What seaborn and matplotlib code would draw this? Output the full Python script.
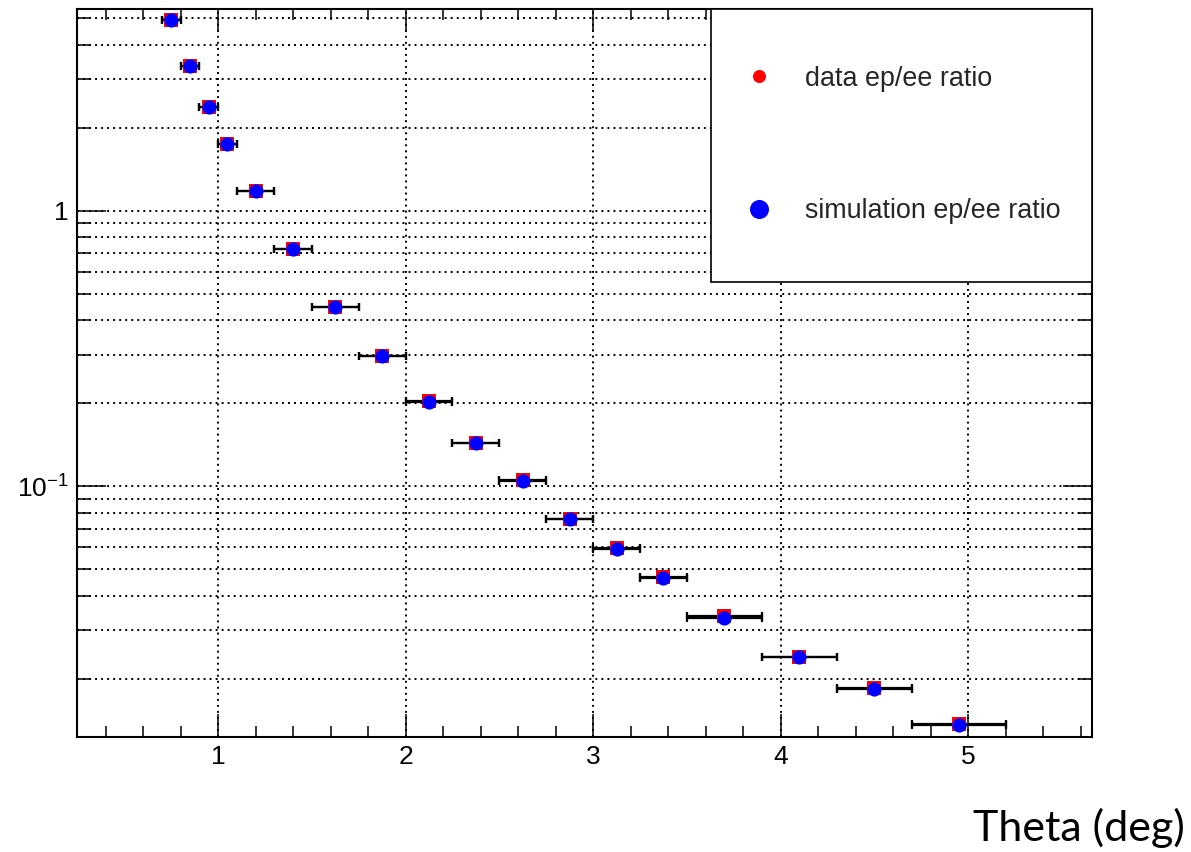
import numpy as np
import pandas as pd
import matplotlib
matplotlib.use("Agg")
import matplotlib.pyplot as plt
from matplotlib.ticker import MultipleLocator, LogLocator, NullFormatter, FuncFormatter
from matplotlib.lines import Line2D
from matplotlib.patches import Rectangle
import seaborn as sns

# ---- data ----
theta = [0.75, 0.85, 0.95, 1.05, 1.2, 1.4, 1.625, 1.875, 2.125, 2.375,
         2.625, 2.875, 3.125, 3.375, 3.7, 4.1, 4.5, 4.95]
theta_err = [0.05, 0.05, 0.05, 0.05, 0.1, 0.1, 0.125, 0.125, 0.125, 0.125,
             0.125, 0.125, 0.125, 0.125, 0.2, 0.2, 0.2, 0.25]
sim_ratio = [4.92, 3.35, 2.39, 1.75, 1.18, 0.726, 0.448, 0.297, 0.203, 0.1435,
             0.1047, 0.0760, 0.0592, 0.0463, 0.0333, 0.0240, 0.0184, 0.0136]
data_ratio = [4.93, 3.36, 2.39, 1.75, 1.18, 0.727, 0.449, 0.298, 0.204, 0.1440,
              0.1050, 0.0762, 0.0598, 0.0468, 0.0337, 0.0241, 0.0185, 0.0137]
labels = ["data ep/ee ratio", "simulation ep/ee ratio"]
x_label = "Theta (deg)"

sns.set_style("ticks")
plt.rcParams['font.family'] = ['Liberation Sans', 'DejaVu Sans']
plt.rcParams['mathtext.fontset'] = 'custom'
plt.rcParams['mathtext.rm'] = 'Liberation Sans'
plt.rcParams['mathtext.it'] = 'Liberation Sans'
plt.rcParams['axes.unicode_minus'] = True

fig = plt.figure(figsize=(11.91, 8.52), dpi=100)
ax = fig.add_axes([77/1191, 1-737/852, (1092-77)/1191, (737-9)/852])

df = pd.DataFrame({"theta": theta, "err": theta_err, "data": data_ratio, "sim": sim_ratio})

# error bars for both series
for col in ["data", "sim"]:
    ax.errorbar(df["theta"], df[col], xerr=df["err"], fmt='none', ecolor='black',
                elinewidth=1.6, capsize=3.2, capthick=1.6, zorder=3)

sns.scatterplot(data=df, x="theta", y="data", marker='s', color='red', s=92,
                linewidth=0, ax=ax, zorder=4)
sns.scatterplot(data=df, x="theta", y="sim", marker='o', color='blue', s=104,
                linewidth=0, ax=ax, zorder=5)

ax.set_yscale('log')
ax.set_xlim(0.248, 5.66)
ax.set_ylim(0.0123, 5.40)
ax.set_xlabel("")
ax.set_ylabel("")

ax.xaxis.set_major_locator(MultipleLocator(1))
ax.xaxis.set_minor_locator(MultipleLocator(0.2))
ax.yaxis.set_major_locator(LogLocator(base=10))
ax.yaxis.set_minor_locator(LogLocator(base=10, subs=np.arange(2, 10)))
ax.yaxis.set_minor_formatter(NullFormatter())

def yfmt(v, pos):
    if abs(v - 1) < 1e-9:
        return "1"
    e = int(round(np.log10(v)))
    return r"$10^{%d}$" % e
ax.yaxis.set_major_formatter(FuncFormatter(yfmt))
ax.xaxis.set_major_formatter(FuncFormatter(lambda v, p: "%d" % round(v)))

ax.tick_params(which='both', direction='in', top=True, right=True,
               colors='black', labelsize=19, width=1.1)
ax.tick_params(axis='x', which='major', length=16.5, pad=6)
ax.tick_params(axis='x', which='minor', length=8)
ax.tick_params(axis='y', which='major', length=21, pad=6)
ax.tick_params(axis='y', which='minor', length=10)

for sp in ax.spines.values():
    sp.set_linewidth(1.5)
    sp.set_color('black')

gkw = dict(color='black', linewidth=1.4, linestyle=(0, (1.0, 2.1)))
ax.grid(axis='x', which='major', **gkw)
ax.grid(axis='y', which='both', **gkw)
ax.set_axisbelow(True)

# legend box
box = Rectangle((0.625, 0.6254), 0.375, 0.3746, transform=ax.transAxes,
                facecolor='white', edgecolor='black', linewidth=1.2, zorder=6)
ax.add_patch(box)
handles = [Line2D([], [], linestyle='none', marker='o', color='red', markersize=9.4, markeredgewidth=0),
           Line2D([], [], linestyle='none', marker='o', color='blue', markersize=13.7, markeredgewidth=0)]
leg = ax.legend(handles, labels, loc='center left', bbox_to_anchor=(0.652, 0.8132),
                frameon=False, fontsize=19.4, handlelength=1.5, handletextpad=0.96,
                labelspacing=3.95, borderpad=0, borderaxespad=0)
leg.set_zorder(7)

fig.text(1185/1191, 1-828/852, x_label, ha='right', va='center',
         fontsize=31, family=['Lato', 'DejaVu Sans'], color='black')

fig.savefig("out.png", dpi=100)
